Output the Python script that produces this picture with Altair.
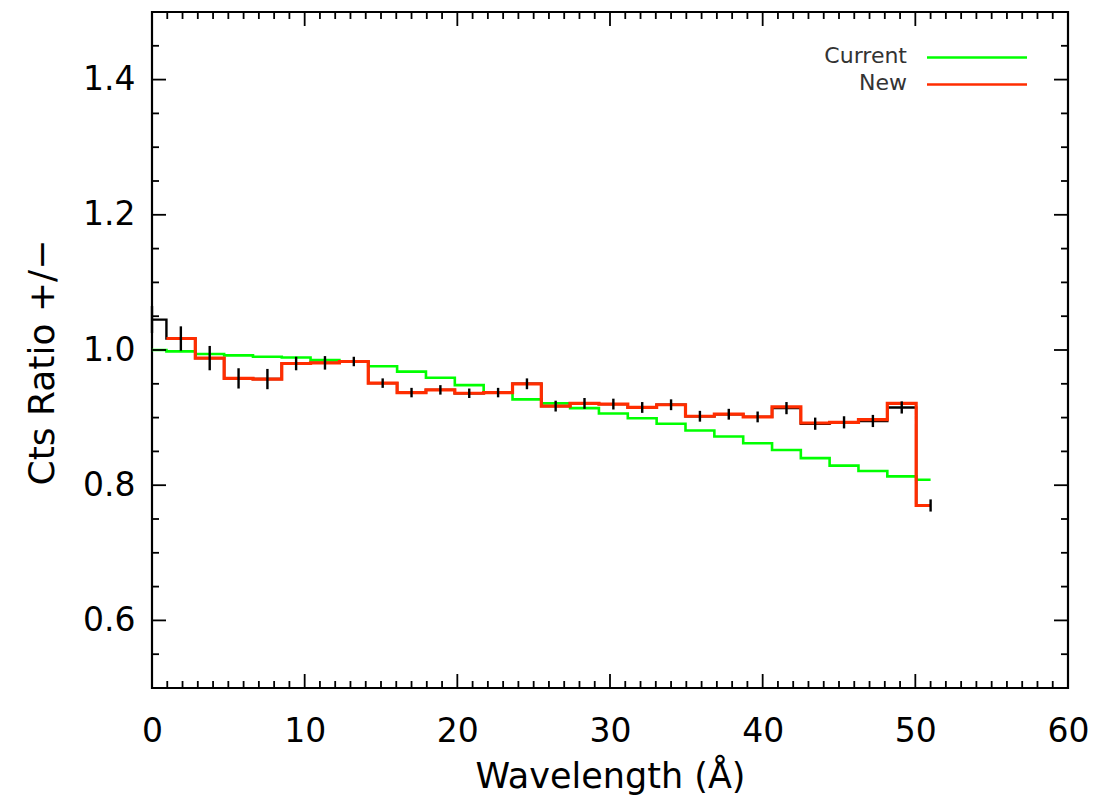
import altair as alt
import pandas as pd

# ---- data ----
wavelength = [0.00, 1.89, 3.78, 5.67, 7.56, 9.44, 11.33, 13.22, 15.11, 17.00,
              18.89, 20.78, 22.67, 24.56, 26.44, 28.33, 30.22, 32.11, 34.00, 35.89,
              37.78, 39.67, 41.56, 43.44, 45.33, 47.22, 49.11, 51.00]

current = [1.000, 0.998, 0.994, 0.992, 0.990, 0.989, 0.985, 0.983, 0.976, 0.968,
           0.959, 0.948, 0.937, 0.927, 0.921, 0.914, 0.906, 0.899, 0.891, 0.881,
           0.872, 0.862, 0.852, 0.840, 0.829, 0.821, 0.813, 0.808]

new = [None, 1.017, 0.988, 0.958, 0.957, 0.980, 0.981, 0.983, 0.951, 0.937,
       0.941, 0.936, 0.937, 0.950, 0.917, 0.921, 0.920, 0.915, 0.919, 0.902,
       0.905, 0.901, 0.916, 0.892, 0.893, 0.897, 0.921, 0.770]

measured = [1.045, 1.017, 0.988, 0.958, 0.957, 0.980, 0.981, 0.983, 0.951, 0.937,
            0.941, 0.936, 0.937, 0.950, 0.917, 0.921, 0.920, 0.915, 0.919, 0.902,
            0.905, 0.901, 0.914, 0.891, 0.893, 0.895, 0.915, 0.770]

errors = [0.020, 0.018, 0.018, 0.015, 0.015, 0.010, 0.010, 0.007, 0.007, 0.007,
          0.007, 0.007, 0.007, 0.008, 0.008, 0.008, 0.008, 0.008, 0.008, 0.008,
          0.008, 0.008, 0.009, 0.009, 0.009, 0.009, 0.009, 0.009]

x_major = [0, 10, 20, 30, 40, 50, 60]
x_minor = [v for v in range(1, 60) if v % 10 != 0]
y_major = [0.6, 0.8, 1.0, 1.2, 1.4]
y_minor = [0.55, 0.65, 0.7, 0.75, 0.85, 0.9, 0.95, 1.05, 1.1, 1.15,
           1.25, 1.3, 1.35, 1.45]

legend_labels = ["Current", "New"]
legend_colors = ["#00ff00", "#ff2d00"]

# ---- helpers: histogram-style steps (edges midway between bin centres) ----
edges = ([wavelength[0]]
         + [(a + b) / 2 for a, b in zip(wavelength[:-1], wavelength[1:])]
         + [wavelength[-1]])


def steps(values):
    rows = []
    idx = [i for i, v in enumerate(values) if v is not None]
    for i in idx:
        rows.append({"x": edges[i], "y": values[i]})
    rows.append({"x": edges[idx[-1] + 1], "y": values[idx[-1]]})
    return pd.DataFrame(rows)


W, H = 916, 676
FONT = "DejaVu Sans"
xs = alt.Scale(domain=[0, 60], nice=False, zero=False)
ys = alt.Scale(domain=[0.5, 1.5], nice=False, zero=False)

x_axis = alt.Axis(values=x_major, format="d", ticks=False, tickSize=0, domain=False,
                  grid=False, labelFont=FONT, labelFontSize=33, labelColor="black",
                  labelFlush=False, labelOverlap=False,
                  labelPadding=27, title="Wavelength (Å)", titleFont=FONT,
                  titleFontSize=35, titleFontWeight="normal", titleColor="black",
                  titleBaseline="alphabetic", titleY=99)
y_axis = alt.Axis(values=y_major, format=".1f", ticks=False, tickSize=0, domain=False,
                  grid=False, labelFont=FONT, labelFontSize=33, labelColor="black",
                  labelFlush=False, labelOverlap=False,
                  labelPadding=17, title="Cts Ratio +/−", titleFont=FONT,
                  titleFontSize=36, titleFontWeight="normal", titleColor="black",
                  titleBaseline="alphabetic", titleAngle=270, titleX=-99, titleY=350)


def X(field):
    return alt.X(field, scale=xs, axis=x_axis)


def Y(field):
    return alt.Y(field, scale=ys, axis=y_axis)


green = alt.Chart(steps(current)).mark_line(
    interpolate="step-after", color="#00ff00", strokeWidth=2.6
).encode(x=X("x:Q"), y=Y("y:Q"))

black = alt.Chart(steps(measured)).mark_line(
    interpolate="step-after", color="black", strokeWidth=2.4
).encode(x=X("x:Q"), y=Y("y:Q"))

red = alt.Chart(steps(new)).mark_line(
    interpolate="step-after", color="#ff2d00", strokeWidth=3.2
).encode(x=X("x:Q"), y=Y("y:Q"))

err_df = pd.DataFrame({
    "x": wavelength,
    "lo": [m - e for m, e in zip(measured, errors)],
    "hi": [m + e for m, e in zip(measured, errors)],
})
errbars = alt.Chart(err_df).mark_rule(color="black", strokeWidth=2.4).encode(
    x=X("x:Q"), y=Y("lo:Q"), y2="hi:Q",
)


# ---- inward ticks on all four sides ----
def xticks(vals, length):
    d = pd.DataFrame({"x": vals})
    bottom = alt.Chart(d).mark_rule(color="black", strokeWidth=1.8).encode(
        x=X("x:Q"), y=alt.value(H), y2=alt.value(H - length))
    top = alt.Chart(d).mark_rule(color="black", strokeWidth=1.8).encode(
        x=X("x:Q"), y=alt.value(0), y2=alt.value(length))
    return [bottom, top]


def yticks(vals, length):
    d = pd.DataFrame({"y": vals})
    left = alt.Chart(d).mark_rule(color="black", strokeWidth=1.8).encode(
        y=Y("y:Q"), x=alt.value(0), x2=alt.value(length))
    right = alt.Chart(d).mark_rule(color="black", strokeWidth=1.8).encode(
        y=Y("y:Q"), x=alt.value(W), x2=alt.value(W - length))
    return [left, right]


tick_layers = xticks(x_major, 14) + xticks(x_minor, 7) + yticks(y_major, 14) + yticks(y_minor, 7)

# ---- legend (label left, line right) ----
leg_layers = []
for i, (lab, col) in enumerate(zip(legend_labels, legend_colors)):
    ty = 44 + i * 27
    leg_layers.append(
        alt.Chart(pd.DataFrame({"t": [lab]})).mark_text(
            align="right", baseline="middle", font=FONT, fontSize=22, color="#333"
        ).encode(text="t:N", x=alt.value(755), y=alt.value(ty))
    )
    leg_layers.append(
        alt.Chart(pd.DataFrame({"t": [lab]})).mark_rule(color=col, strokeWidth=2.5).encode(
            x=alt.value(775), x2=alt.value(875), y=alt.value(ty + 1.5)
        )
    )

chart = alt.layer(green, black, red, errbars, *tick_layers, *leg_layers).properties(
    width=W, height=H,
    padding={"left": 152, "top": 12, "right": 39, "bottom": 108},
    autosize=alt.AutoSizeParams(type="none"),
    background="white",
).configure_view(stroke="black", strokeWidth=2.2)

chart.save("out.html", embed_options={"renderer": "svg", "actions": False})
